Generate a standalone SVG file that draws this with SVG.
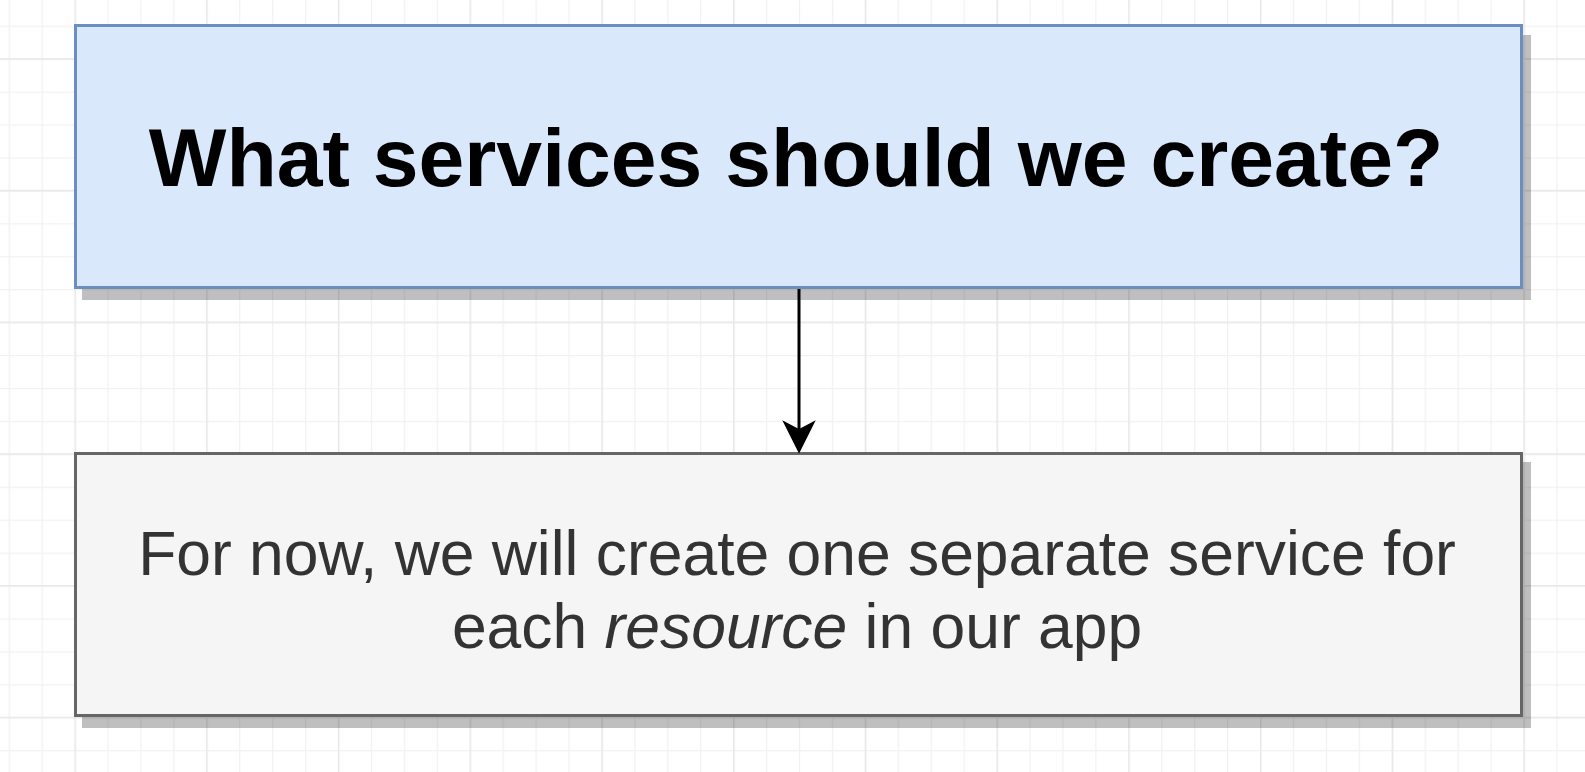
<svg xmlns="http://www.w3.org/2000/svg" width="1585" height="772" viewBox="0 0 1585 772">
  <defs>
    <pattern id="minor" patternUnits="userSpaceOnUse" x="8.6" y="25.7" width="32.93" height="32.93">
      <path d="M0.5 0 V32.93 M0 0.5 H32.93" fill="none" stroke="#f1f1f1" stroke-width="1.5"/>
    </pattern>
    <pattern id="major" patternUnits="userSpaceOnUse" x="74.5" y="58.1" width="131.72" height="131.72">
      <path d="M0.5 0 V131.72 M0 0.5 H131.72" fill="none" stroke="#e8e8e8" stroke-width="1.8"/>
    </pattern>
    <style>
      .shadow { fill: #000; opacity: 0.25; }
      .title { font-family: "Liberation Sans", Arial, sans-serif; font-weight: bold; font-size: 82.3px; fill: #000; }
      .body { font-family: "Liberation Sans", Arial, sans-serif; font-size: 62.4px; fill: #333333; }
    </style>
  </defs>
  <rect width="1585" height="772" fill="#ffffff"/>
  <rect width="1585" height="772" fill="url(#minor)"/>
  <rect width="1585" height="772" fill="url(#major)"/>

  <g id="node-question">
    <rect class="shadow" x="82" y="35" width="1449" height="265"/>
    <rect x="75.5" y="25.5" width="1446" height="262" fill="#dae8fc" stroke="#6c8ebf" stroke-width="3"/>
    <text class="title" x="796" y="186" text-anchor="middle">What services should we create?</text>
  </g>

  <g id="node-answer">
    <rect class="shadow" x="82" y="462" width="1449" height="266"/>
    <rect x="75.5" y="453.5" width="1446" height="262" fill="#f5f5f5" stroke="#666666" stroke-width="3"/>
    <text class="body" x="797" y="575" text-anchor="middle">For now, we will create one separate service for</text>
    <text class="body" x="797" y="648" text-anchor="middle">each <tspan font-style="italic">resource</tspan> in our app</text>
  </g>

  <g id="connectors">
    <line x1="799" y1="289" x2="799" y2="434" stroke="#000" stroke-width="3"/>
    <polygon points="799,452 784,422 799,430 814,422" fill="#000" stroke="#000" stroke-width="1.5" stroke-linejoin="miter"/>
  </g>
</svg>
